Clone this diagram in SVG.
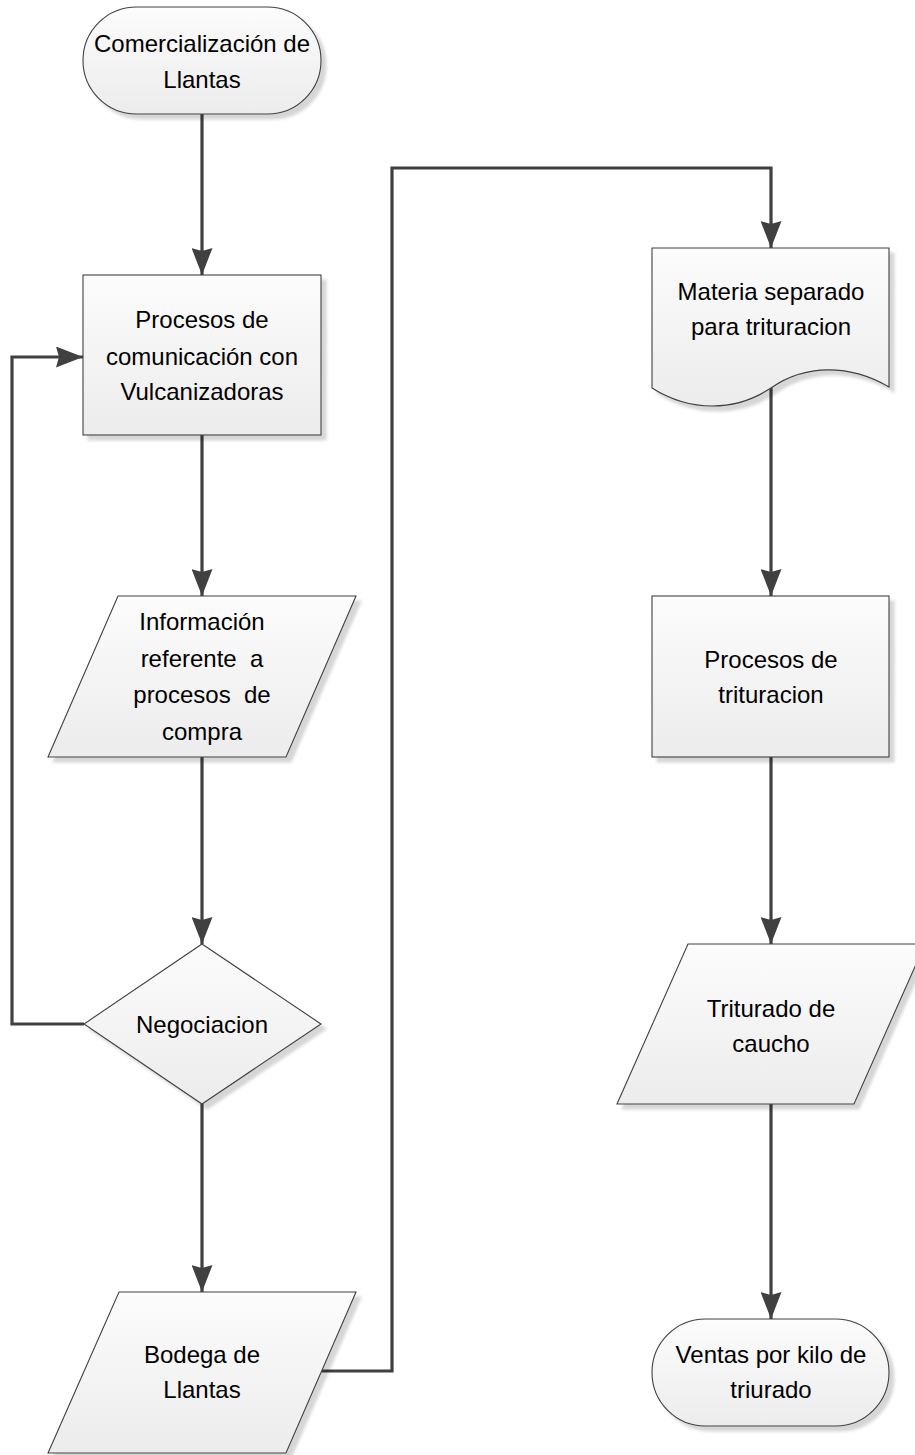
<svg xmlns="http://www.w3.org/2000/svg" width="915" height="1455" viewBox="0 0 915 1455">
<defs>
<linearGradient id="fillg" x1="0" y1="0" x2="0" y2="1">
<stop offset="0" stop-color="#fcfcfc"/>
<stop offset="1" stop-color="#ececec"/>
</linearGradient>
<filter id="shadow" x="-10%" y="-10%" width="130%" height="130%">
<feDropShadow dx="5" dy="5" stdDeviation="1.5" flood-color="#000" flood-opacity="0.16"/>
</filter>
<marker id="arrow" markerUnits="userSpaceOnUse" viewBox="0 0 27 21" refX="27" refY="10.5" markerWidth="27" markerHeight="21" orient="auto">
<path d="M0,0 L27,10.5 L0,21 L3,10.5 z" fill="#404040"/>
</marker>
<style>
.shape{fill:url(#fillg);stroke:#404040;stroke-width:1.1;filter:url(#shadow);}
.lbl{font-family:"Liberation Sans",Arial,sans-serif;font-size:24px;fill:#000;text-anchor:middle;}
.conn{fill:none;stroke:#404040;stroke-width:3.2;}
</style>
</defs>
<rect width="915" height="1455" fill="#fff"/>

<g id="connectors">
<path class="conn" d="M202,114 V275" marker-end="url(#arrow)"/>
<path class="conn" d="M202,435 V596" marker-end="url(#arrow)"/>
<path class="conn" d="M202,757 V944" marker-end="url(#arrow)"/>
<path class="conn" d="M202,1104 V1292" marker-end="url(#arrow)"/>
<path class="conn" d="M84,1024 H12 V357 H83" marker-end="url(#arrow)"/>
<path class="conn" d="M322,1371 H392 V168 H771 V248" marker-end="url(#arrow)"/>
<path class="conn" d="M771,387 V596" marker-end="url(#arrow)"/>
<path class="conn" d="M771,757 V944" marker-end="url(#arrow)"/>
<path class="conn" d="M771,1104 V1319" marker-end="url(#arrow)"/>
</g>

<g id="n1">
<rect class="shape" x="83" y="7" width="238" height="107" rx="53.5" ry="53.5"/>
<text class="lbl" x="202" y="52">Comercialización de</text>
<text class="lbl" x="202" y="88">Llantas</text>
</g>

<g id="n2">
<rect class="shape" x="83" y="275" width="238" height="160"/>
<text class="lbl" x="202" y="328">Procesos de</text>
<text class="lbl" x="202" y="365">comunicación con</text>
<text class="lbl" x="202" y="400">Vulcanizadoras</text>
</g>

<g id="n3">
<polygon class="shape" points="118,596 356,596 286,757 48,757"/>
<text class="lbl" x="202" y="630">Información</text>
<text class="lbl" x="202" y="667" xml:space="preserve">referente  a</text>
<text class="lbl" x="202" y="703" xml:space="preserve">procesos  de</text>
<text class="lbl" x="202" y="740">compra</text>
</g>

<g id="n4">
<polygon class="shape" points="202,944 321,1024 202,1104 84,1024"/>
<text class="lbl" x="202" y="1033">Negociacion</text>
</g>

<g id="n5">
<polygon class="shape" points="119,1292 356,1292 286,1453 48,1453"/>
<text class="lbl" x="202" y="1363">Bodega de</text>
<text class="lbl" x="202" y="1398">Llantas</text>
</g>

<g id="n6">
<path class="shape" d="M652,248 H889 V387 C850,364 805,364 771,388 C735,412 690,412 652,388 Z"/>
<text class="lbl" x="771" y="300">Materia separado</text>
<text class="lbl" x="771" y="335">para trituracion</text>
</g>

<g id="n7">
<rect class="shape" x="652" y="596" width="237" height="161"/>
<text class="lbl" x="771" y="668">Procesos de</text>
<text class="lbl" x="771" y="703">trituracion</text>
</g>

<g id="n8">
<polygon class="shape" points="688,944 925,944 854,1104 617,1104"/>
<text class="lbl" x="771" y="1017">Triturado de</text>
<text class="lbl" x="771" y="1052">caucho</text>
</g>

<g id="n9">
<rect class="shape" x="652" y="1319" width="237" height="107" rx="53.5" ry="53.5"/>
<text class="lbl" x="771" y="1363">Ventas por kilo de</text>
<text class="lbl" x="771" y="1398">triurado</text>
</g>
</svg>
